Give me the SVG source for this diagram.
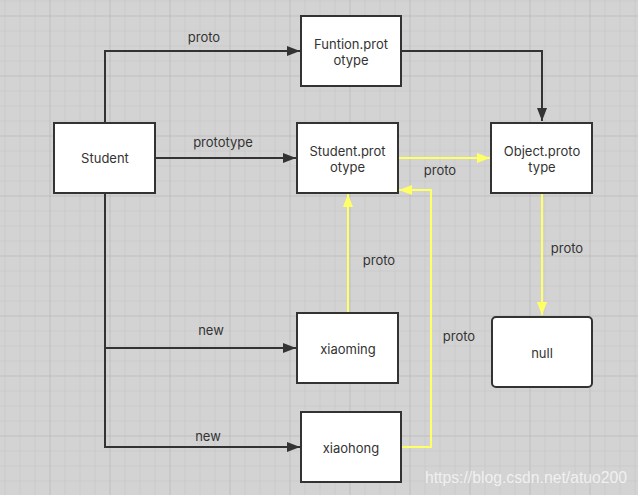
<svg xmlns="http://www.w3.org/2000/svg" width="638" height="495" viewBox="0 0 638 495">
<defs>
<pattern id="minor" x="4.5" y="0.5" width="15" height="15" patternUnits="userSpaceOnUse">
<path d="M0 0 V15 M0 0 H15" stroke="#c3c3c3" stroke-width="1" fill="none"/>
</pattern>
<pattern id="major" x="49.5" y="15.5" width="60" height="60" patternUnits="userSpaceOnUse">
<path d="M0 0 V60 M0 0 H60" stroke="#b8b8b8" stroke-width="1" fill="none"/>
</pattern>
<marker id="ad" markerUnits="userSpaceOnUse" markerWidth="14" markerHeight="10" refX="13" refY="5" orient="auto">
<path d="M0 0 L13 5 L0 10 Z" fill="#333"/>
</marker>
<marker id="ay" markerUnits="userSpaceOnUse" markerWidth="14" markerHeight="10" refX="13" refY="5" orient="auto">
<path d="M0 0 L13 5 L0 10 Z" fill="#ffff66"/>
</marker>
</defs>
<style>
.node rect{fill:#fff;stroke:#333;stroke-width:2}
.t{font-family:Inter,"Open Sans","Liberation Sans",sans-serif;font-size:13px;fill:#333;text-anchor:middle}
.d{fill:none;stroke:#333;stroke-width:2}
.y{fill:none;stroke:#ffff66;stroke-width:2}
.wm{font-family:"Liberation Sans",Arial,sans-serif;font-size:16px;fill:#fff;fill-opacity:0.7}
</style>
<rect width="638" height="495" fill="#d3d3d3"/>
<rect width="638" height="495" fill="url(#minor)"/>
<rect width="638" height="495" fill="url(#major)"/>

<g id="connectors">
<path class="d" d="M105 122 V51 H300" marker-end="url(#ad)"/>
<path class="d" d="M155 158 H296" marker-end="url(#ad)"/>
<path class="d" d="M401 51 H542 V121" marker-end="url(#ad)"/>
<path class="d" d="M105 193 V447 H300" marker-end="url(#ad)"/>
<path class="d" d="M105 348 H296" marker-end="url(#ad)"/>
<path class="y" d="M398 158 H490" marker-end="url(#ay)"/>
<path class="y" d="M542 193 V315" marker-end="url(#ay)"/>
<path class="y" d="M348 312 V194" marker-end="url(#ay)"/>
<path class="y" d="M401 447 H431 V190 H399" marker-end="url(#ay)"/>
<text class="t" x="204" y="42">proto</text>
<text class="t" x="223" y="147">prototype</text>
<text class="t" x="440" y="175">proto</text>
<text class="t" x="567" y="253">proto</text>
<text class="t" x="379" y="265">proto</text>
<text class="t" x="459" y="341">proto</text>
<text class="t" x="211" y="335">new</text>
<text class="t" x="208" y="441">new</text>
</g>

<g id="student" class="node">
<rect x="54" y="123" width="101" height="70"/>
<text class="t" x="105" y="163">Student</text>
</g>
<g id="funtion-prototype" class="node">
<rect x="301" y="16" width="100" height="70"/>
<text class="t" x="351" y="49">Funtion.prot</text>
<text class="t" x="351" y="65">otype</text>
</g>
<g id="student-prototype" class="node">
<rect x="297" y="123" width="101" height="70"/>
<text class="t" x="347.5" y="156">Student.prot</text>
<text class="t" x="347.5" y="172">otype</text>
</g>
<g id="object-prototype" class="node">
<rect x="491" y="123" width="101" height="70"/>
<text class="t" x="542" y="156">Object.proto</text>
<text class="t" x="542" y="172">type</text>
</g>
<g id="xiaoming" class="node">
<rect x="297" y="313" width="101" height="70"/>
<text class="t" x="348" y="354">xiaoming</text>
</g>
<g id="xiaohong" class="node">
<rect x="301" y="412" width="100" height="70"/>
<text class="t" x="351" y="453">xiaohong</text>
</g>
<g id="null" class="node">
<rect x="492" y="317" width="100" height="70" rx="4" ry="4"/>
<text class="t" x="542" y="358">null</text>
</g>
<text class="wm" x="425" y="483" textLength="202" lengthAdjust="spacingAndGlyphs">https://blog.csdn.net/atuo200</text>
</svg>
